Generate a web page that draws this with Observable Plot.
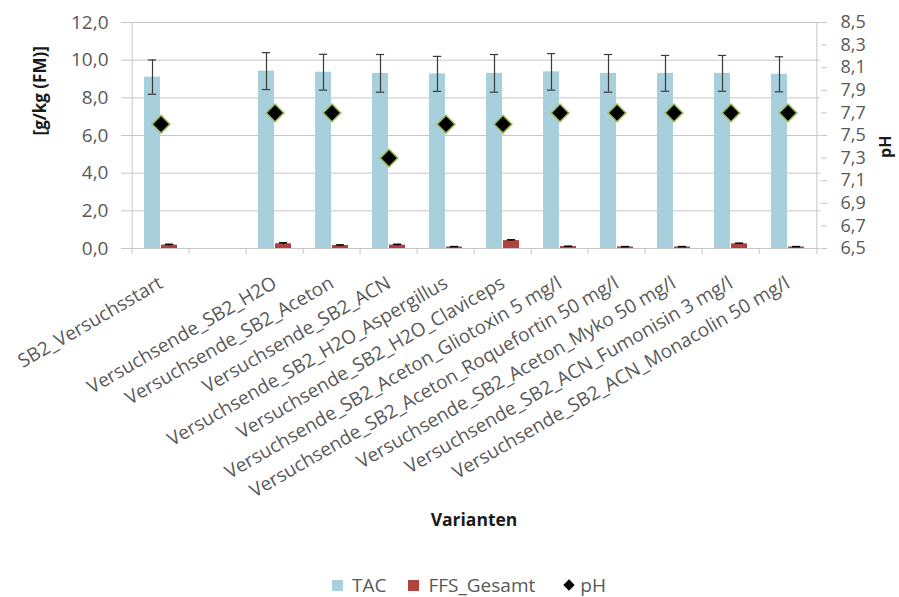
<!DOCTYPE html>
<html><head><meta charset="utf-8">
<script src="https://cdn.jsdelivr.net/npm/d3@7"></script>
<script src="https://cdn.jsdelivr.net/npm/@observablehq/plot@0.6"></script>
<style>
body{margin:0;background:#fff;font-family:"Open Sans",sans-serif;position:relative;width:899px;height:597px;overflow:hidden;}
#legend{position:absolute;left:332px;top:572px;display:flex;align-items:center;font-size:19px;color:#595959;white-space:nowrap;}
#legend .sw{width:11px;height:11px;display:inline-block;margin-right:9px;}
#legend .it{display:flex;align-items:center;}
#legend .dm{width:8px;height:8px;background:#000;transform:rotate(45deg);display:inline-block;margin-right:7px;margin-left:2px;}
</style></head><body>
<div id="chart"></div>
<div id="legend">
  <span class="it"><span class="sw" style="background:#a8cfdc"></span>TAC</span>
  <span class="it" style="margin-left:22px"><span class="sw" style="background:#b0413e"></span>FFS_Gesamt</span>
  <span class="it" style="margin-left:28px"><span class="dm"></span>pH</span>
</div>
<script>
const categories = ["SB2_Versuchsstart", " ", "Versuchsende_SB2_H2O", "Versuchsende_SB2_Aceton", "Versuchsende_SB2_ACN",
  "Versuchsende_SB2_H2O_Aspergillus", "Versuchsende_SB2_H2O_Claviceps", "Versuchsende_SB2_Aceton_Gliotoxin 5 mg/l",
  "Versuchsende_SB2_Aceton_Roquefortin 50 mg/l", "Versuchsende_SB2_Aceton_Myko 50 mg/l",
  "Versuchsende_SB2_ACN_Fumonisin 3 mg/l", "Versuchsende_SB2_ACN_Monacolin 50 mg/l"];
const tac    = [9.1, null, 9.42, 9.36, 9.3, 9.27, 9.3, 9.38, 9.3, 9.3, 9.3, 9.25];
const tacErr = [0.91, null, 0.98, 0.95, 1.0, 0.93, 1.0, 0.97, 1.0, 0.95, 0.95, 0.93];
const ffs    = [0.18, null, 0.25, 0.16, 0.18, 0.08, 0.42, 0.1, 0.08, 0.08, 0.25, 0.08];
const ffsErr = [0.04, null, 0.05, 0.03, 0.04, 0.02, 0.04, 0.02, 0.02, 0.02, 0.03, 0.02];
const ph     = [7.6, null, 7.7, 7.7, 7.3, 7.6, 7.6, 7.7, 7.7, 7.7, 7.7, 7.7];
const yTicks = [0, 2, 4, 6, 8, 10, 12];
const phTicks = [6.5, 6.7, 6.9, 7.1, 7.3, 7.5, 7.7, 7.9, 8.1, 8.3, 8.5];

const rows = categories.map((c, i) => ({cat: c, tac: tac[i], tacErr: tacErr[i], ffs: ffs[i], ffsErr: ffsErr[i], ph: ph[i]}))
  .filter(d => d.tac != null);
const toY = p => (p - 6.5) * 6; // pH 6.5–8.5 onto the 0–12 left scale
const fmt1 = v => v.toFixed(1).replace(".", ",");

const W = 899, H = 545, mL = 127, mR = 79, mT = 22, mB = 297;
const bw = (W - mL - mR) / categories.length;
const tacC = 12 + (bw - 41) / 2;      // TAC bar centre within band
const ffsC = 29 + (bw - 41) / 2;      // FFS bar centre within band
const grid = "#c6c6c6", ink = "#595959", err = "#3a3a3a";

const chart = Plot.plot({
  width: W, height: H, marginLeft: mL, marginRight: mR, marginTop: mT, marginBottom: mB,
  style: {fontFamily: "Open Sans, sans-serif", fontSize: "19px", color: ink, background: "#fff"},
  x: {domain: categories, padding: 0, label: null},
  y: {domain: [0, 12], label: null},
  marks: [
    Plot.gridY(yTicks, {stroke: grid, strokeOpacity: 1}),
    Plot.ruleX([categories[0]], {dx: -bw / 2, stroke: grid}),
    Plot.ruleX([categories[categories.length - 1]], {dx: bw / 2, stroke: grid}),
    Plot.axisX(categories, {tickSize: 6, tickFormat: () => "", dx: -bw / 2, stroke: grid, label: null}),
    Plot.axisX([categories[categories.length - 1]], {tickSize: 6, tickFormat: () => "", dx: bw / 2, stroke: grid, label: null}),
    Plot.axisX(categories, {tickSize: 0, tickPadding: 33, tickRotate: -30, fill: ink, label: null}),
    Plot.axisY(yTicks, {anchor: "left", tickSize: 6, stroke: grid, tickFormat: () => "", label: null}),
    Plot.axisY(yTicks, {anchor: "left", tickSize: 0, tickPadding: 19, tickFormat: fmt1, fill: ink, label: null}),
    Plot.axisY(phTicks.map(toY), {anchor: "right", tickSize: 6, stroke: grid, tickFormat: () => "", label: null}),
    Plot.axisY(phTicks.map(toY), {anchor: "right", tickSize: 0, tickPadding: 20, tickFormat: v => fmt1(v / 6 + 6.5), fill: ink, fontSize: 18, label: null}),
    Plot.barY(rows, {x: "cat", y: "tac", fill: "#a8cfdc", insetLeft: 12, insetRight: 29}),
    Plot.barY(rows, {x: "cat", y: "ffs", fill: "#b0413e", insetLeft: 29, insetRight: 12}),
    Plot.ruleX(rows, {x: "cat", y1: d => d.tac - d.tacErr, y2: d => d.tac + d.tacErr, dx: tacC - bw / 2, stroke: err, strokeWidth: 1.2}),
    Plot.tickY(rows, {x: "cat", y: d => d.tac + d.tacErr, insetLeft: tacC - 4.5, insetRight: bw - tacC - 4.5, stroke: err, strokeWidth: 1.2}),
    Plot.tickY(rows, {x: "cat", y: d => d.tac - d.tacErr, insetLeft: tacC - 4.5, insetRight: bw - tacC - 4.5, stroke: err, strokeWidth: 1.2}),
    Plot.ruleX(rows, {x: "cat", y1: d => d.ffs - d.ffsErr, y2: d => d.ffs + d.ffsErr, dx: ffsC - bw / 2, stroke: "#000", strokeWidth: 1.2}),
    Plot.tickY(rows, {x: "cat", y: d => d.ffs + d.ffsErr, insetLeft: ffsC - 4.5, insetRight: bw - ffsC - 4.5, stroke: "#000", strokeWidth: 1.5}),
    Plot.dot(rows, {x: "cat", y: d => toY(d.ph), symbol: "diamond2", r: 8, fill: "#000", stroke: "#9bbb59", strokeWidth: 1.5}),
    Plot.text(["[g/kg (FM)]"], {frameAnchor: "left", dx: -87, rotate: -90, fontWeight: "bold", fontSize: 17, fill: "#1a1a1a"}),
    Plot.text(["pH"], {frameAnchor: "right", dx: 65, rotate: -90, fontWeight: "bold", fontSize: 16, fill: "#1a1a1a"}),
    Plot.text(["Varianten"], {frameAnchor: "bottom", dy: 277, fontWeight: "bold", fontSize: 17.5, fill: "#1a1a1a"})
  ]
});
document.getElementById("chart").appendChild(chart);
</script>
</body></html>
